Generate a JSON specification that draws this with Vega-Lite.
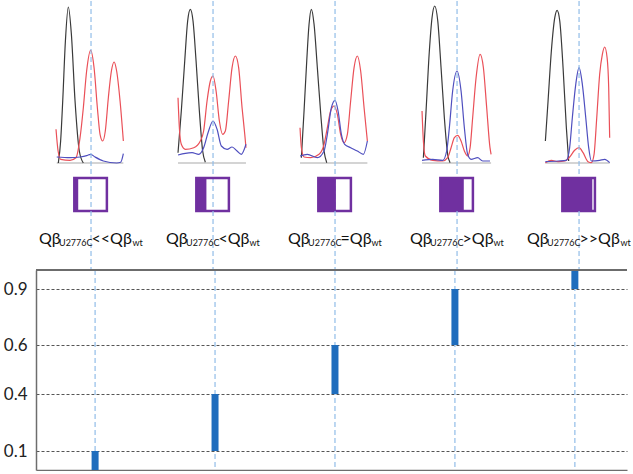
{
  "$schema": "https://vega.github.io/schema/vega-lite/v6.json",
  "padding": {"left": 3, "top": 0, "right": 0, "bottom": 0},
  "background": "white",
  "spacing": 0,
  "bounds": "flush",
  "resolve": {"scale": {"x": "independent", "y": "independent"}},
  "config": {"view": {"stroke": null}, "font": "Lato"},
  "datasets": {
    "traces": [
      {"c":1,"s":"g","x":0.719,"y":0},{"c":1,"s":"g","x":1.265,"y":0},
      {"c":1,"s":"k","x":0.732,"y":0},{"c":1,"s":"k","x":0.751,"y":22},{"c":1,"s":"k","x":0.768,"y":62},{"c":1,"s":"k","x":0.790,"y":122},{"c":1,"s":"k","x":0.814,"y":156},{"c":1,"s":"k","x":0.839,"y":128.7},{"c":1,"s":"k","x":0.869,"y":62},{"c":1,"s":"k","x":0.904,"y":12},{"c":1,"s":"k","x":0.937,"y":0},
      {"c":1,"s":"r","x":0.713,"y":33.7},{"c":1,"s":"r","x":0.730,"y":12},{"c":1,"s":"r","x":0.751,"y":3.7},{"c":1,"s":"r","x":0.828,"y":2.7},{"c":1,"s":"r","x":0.877,"y":5.3},{"c":1,"s":"r","x":0.910,"y":25.3},{"c":1,"s":"r","x":0.937,"y":55.3},{"c":1,"s":"r","x":0.964,"y":92},{"c":1,"s":"r","x":0.997,"y":112.7},{"c":1,"s":"r","x":1.025,"y":95.3},{"c":1,"s":"r","x":1.052,"y":55.3},{"c":1,"s":"r","x":1.074,"y":28.7},{"c":1,"s":"r","x":1.096,"y":22},{"c":1,"s":"r","x":1.117,"y":32},{"c":1,"s":"r","x":1.142,"y":65.3},{"c":1,"s":"r","x":1.167,"y":92},{"c":1,"s":"r","x":1.189,"y":101},{"c":1,"s":"r","x":1.210,"y":92},{"c":1,"s":"r","x":1.238,"y":62},{"c":1,"s":"r","x":1.265,"y":22},
      {"c":1,"s":"b","x":0.719,"y":6},{"c":1,"s":"b","x":0.828,"y":5.3},{"c":1,"s":"b","x":0.910,"y":6},{"c":1,"s":"b","x":0.964,"y":7.3},{"c":1,"s":"b","x":0.997,"y":8.7},{"c":1,"s":"b","x":1.033,"y":6},{"c":1,"s":"b","x":1.101,"y":2},{"c":1,"s":"b","x":1.210,"y":0},{"c":1,"s":"b","x":1.243,"y":0.7},{"c":1,"s":"b","x":1.265,"y":9.3},
      {"c":2,"s":"g","x":1.713,"y":0},{"c":2,"s":"g","x":2.270,"y":0},
      {"c":2,"s":"k","x":1.713,"y":10.3},{"c":2,"s":"k","x":1.740,"y":52},{"c":2,"s":"k","x":1.768,"y":102},{"c":2,"s":"k","x":1.792,"y":142},{"c":2,"s":"k","x":1.814,"y":153.7},{"c":2,"s":"k","x":1.836,"y":142},{"c":2,"s":"k","x":1.861,"y":102},{"c":2,"s":"k","x":1.888,"y":52},{"c":2,"s":"k","x":1.915,"y":12},{"c":2,"s":"k","x":1.937,"y":0.7},
      {"c":2,"s":"r","x":1.713,"y":65.3},{"c":2,"s":"r","x":1.724,"y":35.3},{"c":2,"s":"r","x":1.740,"y":18.7},{"c":2,"s":"r","x":1.773,"y":13.7},{"c":2,"s":"r","x":1.842,"y":15.3},{"c":2,"s":"r","x":1.896,"y":22},{"c":2,"s":"r","x":1.923,"y":32},{"c":2,"s":"r","x":1.951,"y":62},{"c":2,"s":"r","x":1.978,"y":82},{"c":2,"s":"r","x":2.0,"y":87},{"c":2,"s":"r","x":2.025,"y":72},{"c":2,"s":"r","x":2.052,"y":42},{"c":2,"s":"r","x":2.079,"y":28.7},{"c":2,"s":"r","x":2.101,"y":32},{"c":2,"s":"r","x":2.128,"y":62},{"c":2,"s":"r","x":2.156,"y":95.3},{"c":2,"s":"r","x":2.183,"y":107},{"c":2,"s":"r","x":2.210,"y":95.3},{"c":2,"s":"r","x":2.238,"y":55.3},{"c":2,"s":"r","x":2.260,"y":28.7},{"c":2,"s":"r","x":2.270,"y":15.3},
      {"c":2,"s":"b","x":1.713,"y":8},{"c":2,"s":"b","x":1.773,"y":9.7},{"c":2,"s":"b","x":1.828,"y":10.3},{"c":2,"s":"b","x":1.883,"y":8.7},{"c":2,"s":"b","x":1.923,"y":15.3},{"c":2,"s":"b","x":1.959,"y":30.3},{"c":2,"s":"b","x":2.0,"y":42},{"c":2,"s":"b","x":2.033,"y":33.7},{"c":2,"s":"b","x":2.068,"y":17},{"c":2,"s":"b","x":2.115,"y":13.7},{"c":2,"s":"b","x":2.156,"y":16},{"c":2,"s":"b","x":2.197,"y":12},{"c":2,"s":"b","x":2.232,"y":8.7},{"c":2,"s":"b","x":2.270,"y":18.7},
      {"c":3,"s":"g","x":2.713,"y":0},{"c":3,"s":"g","x":3.265,"y":0},
      {"c":3,"s":"k","x":2.724,"y":5.3},{"c":3,"s":"k","x":2.746,"y":52},{"c":3,"s":"k","x":2.768,"y":102},{"c":3,"s":"k","x":2.787,"y":138.7},{"c":3,"s":"k","x":2.806,"y":153.7},{"c":3,"s":"k","x":2.828,"y":138.7},{"c":3,"s":"k","x":2.855,"y":95.3},{"c":3,"s":"k","x":2.883,"y":48.7},{"c":3,"s":"k","x":2.910,"y":12},{"c":3,"s":"k","x":2.932,"y":0.3},
      {"c":3,"s":"r","x":2.713,"y":35.3},{"c":3,"s":"r","x":2.724,"y":15.3},{"c":3,"s":"r","x":2.746,"y":6},{"c":3,"s":"r","x":2.801,"y":5.3},{"c":3,"s":"r","x":2.869,"y":8.7},{"c":3,"s":"r","x":2.910,"y":18.7},{"c":3,"s":"r","x":2.937,"y":35.3},{"c":3,"s":"r","x":2.964,"y":52},{"c":3,"s":"r","x":2.992,"y":57},{"c":3,"s":"r","x":3.019,"y":48.7},{"c":3,"s":"r","x":3.046,"y":28.7},{"c":3,"s":"r","x":3.074,"y":20.3},{"c":3,"s":"r","x":3.101,"y":28.7},{"c":3,"s":"r","x":3.128,"y":62},{"c":3,"s":"r","x":3.156,"y":95.3},{"c":3,"s":"r","x":3.183,"y":107},{"c":3,"s":"r","x":3.210,"y":92},{"c":3,"s":"r","x":3.238,"y":55.3},{"c":3,"s":"r","x":3.265,"y":22},
      {"c":3,"s":"b","x":2.713,"y":7},{"c":3,"s":"b","x":2.773,"y":8.7},{"c":3,"s":"b","x":2.855,"y":5.3},{"c":3,"s":"b","x":2.910,"y":12},{"c":3,"s":"b","x":2.937,"y":28.7},{"c":3,"s":"b","x":2.970,"y":55.3},{"c":3,"s":"b","x":3.0,"y":62.7},{"c":3,"s":"b","x":3.025,"y":52},{"c":3,"s":"b","x":3.052,"y":28.7},{"c":3,"s":"b","x":3.079,"y":18.7},{"c":3,"s":"b","x":3.128,"y":15.3},{"c":3,"s":"b","x":3.183,"y":12},{"c":3,"s":"b","x":3.232,"y":8.7},{"c":3,"s":"b","x":3.265,"y":22},
      {"c":4,"s":"g","x":3.713,"y":0},{"c":4,"s":"g","x":4.279,"y":0},
      {"c":4,"s":"k","x":3.724,"y":5.3},{"c":4,"s":"k","x":3.746,"y":52},{"c":4,"s":"k","x":3.773,"y":112},{"c":4,"s":"k","x":3.795,"y":145.3},{"c":4,"s":"k","x":3.817,"y":157},{"c":4,"s":"k","x":3.842,"y":142},{"c":4,"s":"k","x":3.869,"y":95.3},{"c":4,"s":"k","x":3.896,"y":45.3},{"c":4,"s":"k","x":3.923,"y":8.7},{"c":4,"s":"k","x":3.943,"y":0.3},
      {"c":4,"s":"r","x":3.713,"y":52},{"c":4,"s":"r","x":3.724,"y":22},{"c":4,"s":"r","x":3.740,"y":7},{"c":4,"s":"r","x":3.801,"y":2.7},{"c":4,"s":"r","x":3.883,"y":2},{"c":4,"s":"r","x":3.923,"y":5.3},{"c":4,"s":"r","x":3.951,"y":15.3},{"c":4,"s":"r","x":3.978,"y":25.3},{"c":4,"s":"r","x":4.005,"y":27.7},{"c":4,"s":"r","x":4.033,"y":22},{"c":4,"s":"r","x":4.060,"y":12},{"c":4,"s":"r","x":4.087,"y":7},{"c":4,"s":"r","x":4.107,"y":15.3},{"c":4,"s":"r","x":4.128,"y":45.3},{"c":4,"s":"r","x":4.156,"y":85.3},{"c":4,"s":"r","x":4.189,"y":108.7},{"c":4,"s":"r","x":4.216,"y":95.3},{"c":4,"s":"r","x":4.243,"y":55.3},{"c":4,"s":"r","x":4.270,"y":15.3},{"c":4,"s":"r","x":4.279,"y":8.7},
      {"c":4,"s":"b","x":3.713,"y":2.7},{"c":4,"s":"b","x":3.801,"y":3.7},{"c":4,"s":"b","x":3.883,"y":2.7},{"c":4,"s":"b","x":3.915,"y":12},{"c":4,"s":"b","x":3.937,"y":35.3},{"c":4,"s":"b","x":3.964,"y":72},{"c":4,"s":"b","x":4.0,"y":92},{"c":4,"s":"b","x":4.033,"y":72},{"c":4,"s":"b","x":4.060,"y":35.3},{"c":4,"s":"b","x":4.087,"y":8.7},{"c":4,"s":"b","x":4.115,"y":3.7},{"c":4,"s":"b","x":4.169,"y":5.3},{"c":4,"s":"b","x":4.210,"y":2},{"c":4,"s":"b","x":4.270,"y":2},
      {"c":5,"s":"g","x":4.724,"y":0},{"c":5,"s":"g","x":5.251,"y":0},
      {"c":5,"s":"k","x":4.724,"y":22},{"c":5,"s":"k","x":4.746,"y":62},{"c":5,"s":"k","x":4.773,"y":112},{"c":5,"s":"k","x":4.801,"y":145.3},{"c":5,"s":"k","x":4.820,"y":152.7},{"c":5,"s":"k","x":4.842,"y":142},{"c":5,"s":"k","x":4.869,"y":95.3},{"c":5,"s":"k","x":4.896,"y":35.3},{"c":5,"s":"k","x":4.915,"y":2},
      {"c":5,"s":"r","x":4.724,"y":0.3},{"c":5,"s":"r","x":4.773,"y":2.7},{"c":5,"s":"r","x":4.828,"y":1.3},{"c":5,"s":"r","x":4.883,"y":2},{"c":5,"s":"r","x":4.923,"y":6},{"c":5,"s":"r","x":4.964,"y":12.7},{"c":5,"s":"r","x":5.0,"y":15.3},{"c":5,"s":"r","x":5.033,"y":10.3},{"c":5,"s":"r","x":5.074,"y":1.3},{"c":5,"s":"r","x":5.101,"y":0.3},{"c":5,"s":"r","x":5.123,"y":8.7},{"c":5,"s":"r","x":5.145,"y":45.3},{"c":5,"s":"r","x":5.169,"y":88.7},{"c":5,"s":"r","x":5.191,"y":108.7},{"c":5,"s":"r","x":5.210,"y":116},{"c":5,"s":"r","x":5.230,"y":105.3},{"c":5,"s":"r","x":5.243,"y":75.3},{"c":5,"s":"r","x":5.251,"y":25.3},
      {"c":5,"s":"b","x":4.724,"y":1.3},{"c":5,"s":"b","x":4.828,"y":2},{"c":5,"s":"b","x":4.896,"y":2.7},{"c":5,"s":"b","x":4.923,"y":15.3},{"c":5,"s":"b","x":4.945,"y":45.3},{"c":5,"s":"b","x":4.973,"y":78.7},{"c":5,"s":"b","x":5.0,"y":95.3},{"c":5,"s":"b","x":5.027,"y":78.7},{"c":5,"s":"b","x":5.055,"y":45.3},{"c":5,"s":"b","x":5.079,"y":15.3},{"c":5,"s":"b","x":5.101,"y":2},{"c":5,"s":"b","x":5.169,"y":2.7},{"c":5,"s":"b","x":5.210,"y":3.7},{"c":5,"s":"b","x":5.251,"y":0.3}
    ],
    "cols": [
      {"col":1,"frac":0.12,"pre":"Qβ","sub1":"U2776C","op":"<<Qβ","sub2":"wt","lo":0,"hi":0.1},
      {"col":2,"frac":0.31,"pre":"Qβ","sub1":"U2776C","op":"<Qβ","sub2":"wt","lo":0.1,"hi":0.4},
      {"col":3,"frac":0.54,"pre":"Qβ","sub1":"U2776C","op":"=Qβ","sub2":"wt","lo":0.4,"hi":0.6},
      {"col":4,"frac":0.72,"pre":"Qβ","sub1":"U2776C","op":">Qβ","sub2":"wt","lo":0.6,"hi":0.9},
      {"col":5,"frac":0.92,"pre":"Qβ","sub1":"U2776C","op":">>Qβ","sub2":"wt","lo":0.9,"hi":1.0}
    ]
  },
  "vconcat": [
    {
      "width": 591, "height": 177,
      "layer": [
        {
          "data": {"name": "traces"},
          "mark": {"type": "line", "interpolate": "monotone", "strokeWidth": 1.2},
          "encoding": {
            "x": {"field": "x", "type": "quantitative", "scale": {"domain": [0.549, 5.393], "nice": false, "zero": false}, "axis": null},
            "y": {"field": "y", "type": "quantitative", "scale": {"domain": [-15, 162], "nice": false, "zero": false}, "axis": null},
            "color": {"field": "s", "type": "nominal", "scale": {"domain": ["g", "k", "r", "b"], "range": ["#a9a9a9", "#3a3a3a", "#ea5058", "#4f4fbf"]}, "legend": null},
            "detail": {"field": "c", "type": "nominal"}
          }
        },
        {
          "data": {"name": "cols"},
          "mark": {"type": "rule", "color": "#92bde8", "strokeDash": [5, 3], "strokeWidth": 1.2},
          "encoding": {"x": {"field": "col", "type": "quantitative"}}
        }
      ]
    },
    {
      "width": 591, "height": 33,
      "data": {"name": "cols"},
      "transform": [
        {"calculate": "datum.col - 0.137", "as": "bl"},
        {"calculate": "datum.col + 0.13", "as": "br"},
        {"calculate": "datum.bl + datum.frac * 0.267", "as": "bf"}
      ],
      "layer": [
        {
          "mark": {"type": "rule", "color": "#92bde8", "strokeDash": [5, 3], "strokeWidth": 1.2},
          "encoding": {"x": {"field": "col", "type": "quantitative", "scale": {"domain": [0.549, 5.393], "nice": false, "zero": false}, "axis": null}}
        },
        {
          "mark": {"type": "rect", "color": "#7030a0"},
          "encoding": {
            "x": {"field": "bl", "type": "quantitative"},
            "x2": {"field": "bf"},
            "y": {"datum": 0, "type": "quantitative", "scale": {"domain": [0, 1], "nice": false}, "axis": null},
            "y2": {"datum": 1}
          }
        },
        {
          "mark": {"type": "rect", "filled": false, "stroke": "#7030a0", "strokeWidth": 2.5},
          "encoding": {
            "x": {"field": "bl", "type": "quantitative"},
            "x2": {"field": "br"},
            "y": {"datum": 0, "type": "quantitative"},
            "y2": {"datum": 1}
          }
        }
      ]
    },
    {
      "width": 591, "height": 59,
      "data": {"name": "cols"},
      "encoding": {"x": {"field": "col", "type": "quantitative", "scale": {"domain": [0.549, 5.393], "nice": false, "zero": false}, "axis": null}},
      "layer": [
        {"mark": {"type": "rule", "color": "#92bde8", "strokeDash": [5, 3], "strokeWidth": 1.2}},
        {
          "transform": [{"filter": "length(datum.op) == 4"}],
          "layer": [
            {"mark": {"type": "text", "align": "left", "baseline": "alphabetic", "dx": -52, "dy": 3, "fontSize": 16, "color": "#111"}, "encoding": {"text": {"field": "pre"}}},
            {"mark": {"type": "text", "align": "left", "baseline": "alphabetic", "dx": -32, "dy": 5.5, "fontSize": 9, "color": "#111"}, "encoding": {"text": {"field": "sub1"}}},
            {"mark": {"type": "text", "align": "left", "baseline": "alphabetic", "dx": 0.5, "dy": 3, "fontSize": 16, "color": "#111"}, "encoding": {"text": {"field": "op"}}},
            {"mark": {"type": "text", "align": "left", "baseline": "alphabetic", "dx": 41.5, "dy": 5.5, "fontSize": 9, "color": "#111"}, "encoding": {"text": {"field": "sub2"}}}
          ]
        },
        {
          "transform": [{"filter": "length(datum.op) == 3"}],
          "layer": [
            {"mark": {"type": "text", "align": "left", "baseline": "alphabetic", "dx": -47, "dy": 3, "fontSize": 16, "color": "#111"}, "encoding": {"text": {"field": "pre"}}},
            {"mark": {"type": "text", "align": "left", "baseline": "alphabetic", "dx": -27, "dy": 5.5, "fontSize": 9, "color": "#111"}, "encoding": {"text": {"field": "sub1"}}},
            {"mark": {"type": "text", "align": "left", "baseline": "alphabetic", "dx": 5.5, "dy": 3, "fontSize": 16, "color": "#111"}, "encoding": {"text": {"field": "op"}}},
            {"mark": {"type": "text", "align": "left", "baseline": "alphabetic", "dx": 36.5, "dy": 5.5, "fontSize": 9, "color": "#111"}, "encoding": {"text": {"field": "sub2"}}}
          ]
        }
      ]
    },
    {
      "width": 591, "height": 200,
      "data": {"name": "cols"},
      "layer": [
        {
          "mark": {"type": "rule", "color": "#92bde8", "strokeDash": [5, 3], "strokeWidth": 1.2},
          "encoding": {
            "x": {"field": "col", "type": "quantitative", "scale": {"domain": [0.549, 5.393], "nice": false, "zero": false},
                  "axis": {"title": null, "labels": false, "ticks": false, "grid": false, "domainColor": "#6d6d6d", "domainWidth": 1.5}}
          }
        },
        {
          "mark": {"type": "bar", "color": "#1f6dbd", "size": 7},
          "encoding": {
            "x": {"field": "col", "type": "quantitative"},
            "y": {"field": "lo", "type": "quantitative",
                  "scale": {"domain": [0, 0.1, 0.4, 0.6, 0.9, 1], "range": [200, 181, 124, 75, 19, 0], "nice": false, "zero": false},
                  "axis": {"title": null, "values": [0.1, 0.4, 0.6, 0.9], "format": ".1f", "ticks": false, "labelPadding": 9, "labelFontSize": 17, "labelFont": "Lato", "labelColor": "#222", "domainColor": "#6d6d6d", "domainWidth": 1.5, "grid": true, "gridColor": "#555", "gridDash": [3, 2], "gridWidth": 1}},
            "y2": {"field": "hi"}
          }
        },
        {
          "mark": {"type": "rule", "color": "#6d6d6d", "strokeWidth": 1.5},
          "encoding": {"y": {"datum": 1, "type": "quantitative"}}
        }
      ]
    }
  ]
}
